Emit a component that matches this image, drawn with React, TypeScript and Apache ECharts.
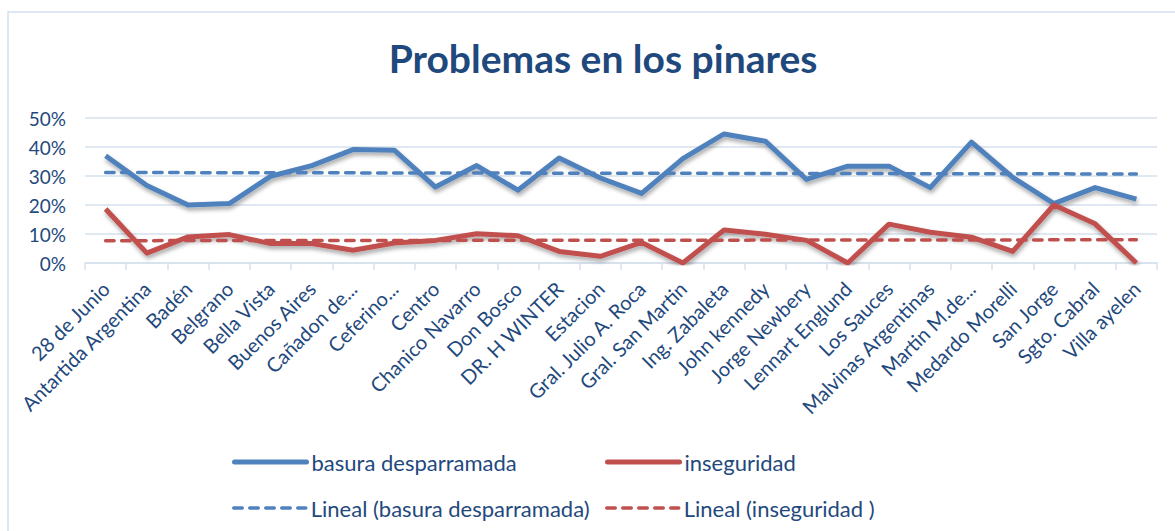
import React, { useEffect, useRef } from "react";
import * as echarts from "echarts";

const categories = [
  "28 de Junio",
  "Antartida Argentina",
  "Badén",
  "Belgrano",
  "Bella Vista",
  "Buenos Aires",
  "Cañadon de...",
  "Ceferino...",
  "Centro",
  "Chanico Navarro",
  "Don Bosco",
  "DR. H WINTER",
  "Estacion",
  "Gral. Julio A. Roca",
  "Gral. San Martin",
  "Ing. Zabaleta",
  "John kennedy",
  "Jorge Newbery",
  "Lennart Englund",
  "Los Sauces",
  "Malvinas Argentinas",
  "Martin M.de...",
  "Medardo Morelli",
  "San Jorge",
  "Sgto. Cabral",
  "Villa ayelen",
];

const basura = [
  37.0, 26.7, 20.0, 20.5, 29.9, 33.6, 39.1, 38.9, 26.2, 33.6, 25.1, 36.2, 29.3,
  24.0, 36.0, 44.5, 42.0, 28.8, 33.4, 33.4, 26.0, 41.7, 29.5, 20.5, 26.0, 22.0,
];

const inseguridad = [
  18.6, 3.4, 9.0, 9.8, 6.7, 6.7, 4.4, 6.9, 7.8, 10.1, 9.4, 4.0, 2.3, 7.1, 0,
  11.4, 9.9, 7.8, 0, 13.4, 10.6, 8.9, 4.0, 20.0, 13.5, 0,
];

// trend line values at first and last category
const basuraTrend = [31.2, 30.7];
const inseguridadTrend = [7.7, 8.0];

const yTicks = { min: 0, max: 50, interval: 10 };

const BLUE = "#4F81BD";
const RED = "#C0504D";
const TEXT = "#1F497D";
const GRID = "#D6E1EE";
const FONT = "Lato, 'Open Sans', sans-serif";

export default function App() {
  const ref = useRef<HTMLDivElement>(null);
  useEffect(() => {
    const chart = echarts.init(ref.current as HTMLDivElement, null, {
      renderer: "svg",
    });
    const last = categories.length - 1;
    const shadow = {
      shadowColor: "rgba(0,0,0,0.35)",
      shadowBlur: 4,
      shadowOffsetX: 1,
      shadowOffsetY: 3,
    };
    const legendBase = {
      orient: "horizontal",
      itemWidth: 72,
      itemHeight: 14,
      padding: 0,
      itemStyle: { opacity: 0 },
      textStyle: { fontSize: 22, color: TEXT, fontFamily: FONT },
    };
    const solidLegend = { ...legendBase, lineStyle: { width: 5, cap: "round" } };
    const dashLegend = {
      ...legendBase,
      lineStyle: { width: 3.5, cap: "round" },
    };
    chart.setOption({
      animation: false,
      backgroundColor: "#ffffff",
      title: {
        text: "Problemas en los pinares",
        left: 598,
        textAlign: "center",
        top: 33,
        textStyle: {
          fontSize: 39,
          fontWeight: "bold",
          color: TEXT,
          fontFamily: FONT,
        },
      },
      graphic: [
        {
          type: "rect",
          silent: true,
          z: -10,
          shape: { x: 8, y: 12, width: 1200, height: 600 },
          style: { fill: "none", stroke: "#D3DFEE", lineWidth: 1.5 },
        },
      ],
      legend: [
        { ...solidLegend, data: ["basura desparramada"], left: 232, top: 451 },
        { ...solidLegend, data: ["inseguridad"], left: 605, top: 451 },
        {
          ...dashLegend,
          data: ["Lineal (basura desparramada)"],
          left: 232,
          top: 497,
        },
        { ...dashLegend, data: ["Lineal (inseguridad )"], left: 605, top: 497 },
      ],
      grid: { left: 85, right: 18, top: 118, bottom: 268, containLabel: false },
      xAxis: {
        type: "category",
        data: categories,
        boundaryGap: true,
        axisLine: { show: true, lineStyle: { color: GRID, width: 1.5 } },
        axisTick: {
          show: true,
          interval: 0,
          length: 7,
          lineStyle: { color: GRID, width: 1.5 },
        },
        axisLabel: {
          interval: 0,
          rotate: 45,
          margin: 22,
          fontSize: 20,
          color: TEXT,
          fontFamily: FONT,
        },
        splitLine: { show: false },
      },
      yAxis: {
        type: "value",
        min: yTicks.min,
        max: yTicks.max,
        interval: yTicks.interval,
        axisLine: { show: false },
        axisTick: { show: false },
        axisLabel: {
          formatter: "{value}%",
          fontSize: 19,
          margin: 19,
          color: TEXT,
          fontFamily: FONT,
        },
        splitLine: { show: true, lineStyle: { color: GRID, width: 1.5 } },
      },
      series: [
        {
          name: "basura desparramada",
          type: "line",
          data: basura,
          symbol: "none",
          z: 3,
          itemStyle: { color: BLUE },
          lineStyle: { color: BLUE, width: 5, join: "round", ...shadow },
        },
        {
          name: "inseguridad",
          type: "line",
          data: inseguridad,
          symbol: "none",
          z: 3,
          itemStyle: { color: RED },
          lineStyle: { color: RED, width: 5, join: "round", ...shadow },
        },
        {
          name: "Lineal (basura desparramada)",
          type: "line",
          data: [
            [0, basuraTrend[0]],
            [last, basuraTrend[1]],
          ],
          symbol: "none",
          z: 4,
          itemStyle: { color: BLUE },
          lineStyle: { color: BLUE, width: 3.5, type: [8.5, 7.5], cap: "round" },
        },
        {
          name: "Lineal (inseguridad )",
          type: "line",
          data: [
            [0, inseguridadTrend[0]],
            [last, inseguridadTrend[1]],
          ],
          symbol: "none",
          z: 4,
          itemStyle: { color: RED },
          lineStyle: { color: RED, width: 3.5, type: [8.5, 7.5], cap: "round" },
        },
      ],
    });
    return () => chart.dispose();
  }, []);
  return (
    <div
      ref={ref}
      style={{ position: "fixed", left: 0, top: 0, width: 1175, height: 531 }}
    />
  );
}
